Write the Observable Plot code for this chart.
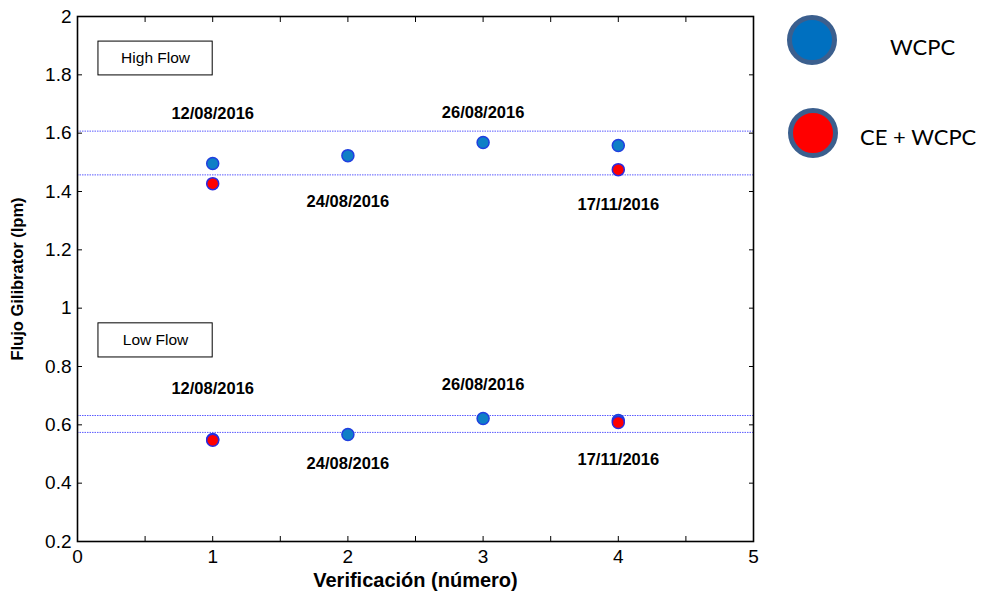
<!DOCTYPE html>
<html><head><meta charset="utf-8">
<script src="https://cdn.jsdelivr.net/npm/d3@7"></script>
<script src="https://cdn.jsdelivr.net/npm/@observablehq/plot@0.6"></script>
<style>
body{margin:0;background:#fff;}
#wrap{position:relative;width:1008px;height:592px;overflow:hidden;background:#fff;}
#chart{position:absolute;left:0;top:0;}
.sw{position:absolute;width:40px;height:40px;border-radius:50%;border:5px solid #3b5f8e;}
.lt{position:absolute;font-family:Lato,"Noto Sans",sans-serif;font-size:22px;color:#000;line-height:1;}
</style></head><body>
<div id="wrap"><div id="chart"></div>
<div class="sw" style="left:787px;top:15px;background:#0070c0"></div>
<div class="lt" style="left:890px;top:36px">WCPC</div>
<div class="sw" style="left:788px;top:108px;background:#ff0000"></div>
<div class="lt" style="left:860px;top:126px">CE + WCPC</div>
</div>
<script>
// Data
const verif = [1, 2, 3, 4];
const wcpcHigh = [1.496, 1.523, 1.568, 1.558];
const wcpcLow = [0.550, 0.567, 0.622, 0.615];
const ceVerif = [1, 4];
const ceHigh = [1.427, 1.475];
const ceLow = [0.547, 0.608];
const refLines = [1.607, 1.457, 0.632, 0.574];
const dateLabels = ["12/08/2016", "24/08/2016", "26/08/2016", "17/11/2016"];
const dateYHigh = [1.667, 1.366, 1.671, 1.355];
const dateYLow = [0.725, 0.468, 0.738, 0.481];
const boxNames = ["High Flow", "Low Flow"];
const boxY1 = [1.798, 0.831];
const boxY2 = [1.914, 0.948];
const boxX1 = [0.155, 0.155];
const boxX2 = [1.0, 1.0];
const xTicks = [0, 1, 2, 3, 4, 5];
const xMinor = [0, 0.5, 1, 1.5, 2, 2.5, 3, 3.5, 4, 4.5, 5];
const yTicks = [0.2, 0.4, 0.6, 0.8, 1, 1.2, 1.4, 1.6, 1.8, 2];
const yLabels = ["0.2", "0.4", "0.6", "0.8", "1", "1.2", "1.4", "1.6", "1.8", "2"];

const wcpc = verif.flatMap((v, i) => [{x: v, y: wcpcHigh[i]}, {x: v, y: wcpcLow[i]}]);
const ce = ceVerif.flatMap((v, i) => [{x: v, y: ceHigh[i]}, {x: v, y: ceLow[i]}]);
const dates = verif.flatMap((v, i) => [{x: v, y: dateYHigh[i], t: dateLabels[i]}, {x: v, y: dateYLow[i], t: dateLabels[i]}]);
const boxes = boxNames.map((n, i) => ({n, x1: boxX1[i], x2: boxX2[i], y1: boxY1[i], y2: boxY2[i]}));

const sans = '"Liberation Sans",Arial,sans-serif';

const chart = Plot.plot({
  width: 1008, height: 592,
  marginLeft: 77, marginRight: 255, marginTop: 16, marginBottom: 51,
  style: {fontFamily: sans, background: "#fff", color: "#000"},
  x: {domain: [0, 5]},
  y: {domain: [0.2, 2]},
  marks: [
    Plot.ruleY(refLines, {stroke: "#5a5aff", strokeWidth: 1, strokeDasharray: "1.5,1"}),
    Plot.rect(boxes, {x1: "x1", x2: "x2", y1: "y1", y2: "y2", fill: "#fff", stroke: "#000", strokeWidth: 1}),
    Plot.text(boxes, {x: d => (d.x1 + d.x2) / 2, y: d => (d.y1 + d.y2) / 2, text: "n", fontSize: 15.5, fill: "#000"}),
    Plot.text(dates, {x: "x", y: "y", text: "t", fontSize: 16.5, fontWeight: "bold", fill: "#000"}),
    Plot.dot(wcpc, {x: "x", y: "y", r: 6, fill: "#0f7fc6", stroke: "#1f3fe0", strokeWidth: 1.5}),
    Plot.dot(ce, {x: "x", y: "y", r: 6, fill: "#ff0000", stroke: "#2a2ae0", strokeWidth: 1.5}),
    Plot.axisX({anchor: "bottom", ticks: xMinor, tickSize: -5, tickFormat: () => "", label: null}),
    Plot.axisX({anchor: "top", ticks: xMinor, tickSize: -5, tickFormat: () => "", label: null}),
    Plot.axisY({anchor: "left", ticks: yTicks, tickSize: -5, tickFormat: () => "", label: null}),
    Plot.axisY({anchor: "right", ticks: yTicks, tickSize: -5, tickFormat: () => "", label: null}),
    Plot.axisX({anchor: "bottom", ticks: xTicks, tickSize: 0, tickPadding: 8, tickFormat: d => String(d), fontSize: 19, label: null}),
    Plot.axisX({anchor: "bottom", ticks: [], tickSize: 0, label: "Verificación (número)", labelAnchor: "center", labelArrow: "none", labelOffset: 45,
      fontSize: 20, fontWeight: "bold"}),
    Plot.axisY({anchor: "left", ticks: yTicks, tickSize: 0, tickPadding: 6, tickFormat: (d, i) => yLabels[i], fontSize: 19, label: null}),
    Plot.axisY({anchor: "left", ticks: [], tickSize: 0, label: "Flujo Gilibrator (lpm)", labelAnchor: "center", labelArrow: "none", labelOffset: 66,
      fontSize: 16.5, fontWeight: "bold"}),
    Plot.frame({stroke: "#000", strokeWidth: 1.6})
  ]
});
document.getElementById("chart").appendChild(chart);
</script>
</body></html>
